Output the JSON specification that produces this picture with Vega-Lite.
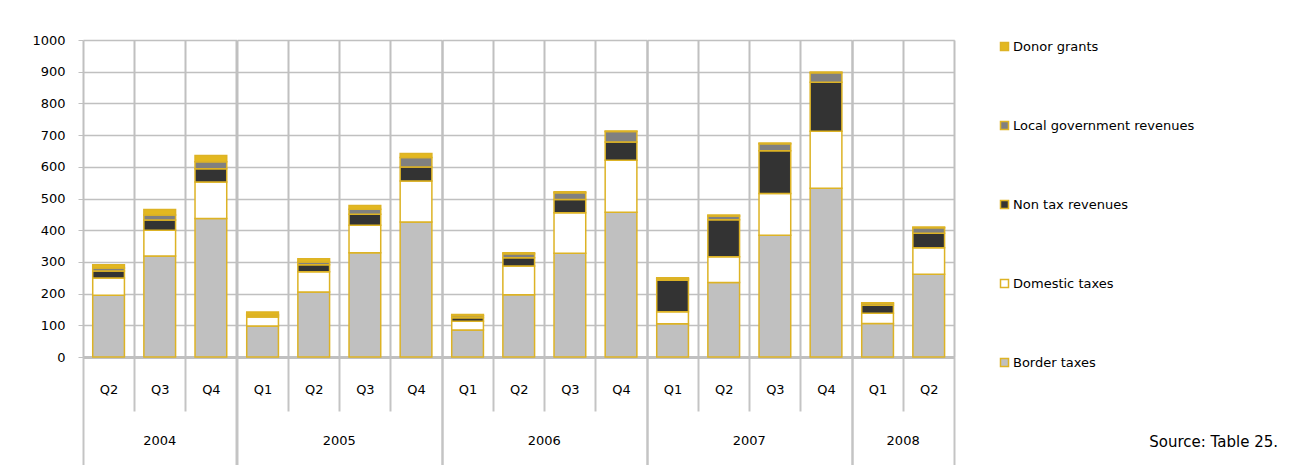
{
  "$schema": "https://vega.github.io/schema/vega-lite/v6.json",
  "padding": {"left": 31, "top": 34, "right": 0, "bottom": 0},
  "background": "white",
  "data": {"values": [
    {"year": "2004", "q": "Q2", "Border taxes": 195, "Domestic taxes": 54, "Non tax revenues": 22, "Local government revenues": 10, "Donor grants": 10},
    {"year": "2004", "q": "Q3", "Border taxes": 319, "Domestic taxes": 81, "Non tax revenues": 32, "Local government revenues": 16, "Donor grants": 17},
    {"year": "2004", "q": "Q4", "Border taxes": 437, "Domestic taxes": 115, "Non tax revenues": 42, "Local government revenues": 22, "Donor grants": 20},
    {"year": "2005", "q": "Q1", "Border taxes": 98, "Domestic taxes": 28, "Non tax revenues": 5, "Local government revenues": 3, "Donor grants": 8},
    {"year": "2005", "q": "Q2", "Border taxes": 205, "Domestic taxes": 64, "Non tax revenues": 22, "Local government revenues": 9, "Donor grants": 10},
    {"year": "2005", "q": "Q3", "Border taxes": 329, "Domestic taxes": 87, "Non tax revenues": 34, "Local government revenues": 16, "Donor grants": 12},
    {"year": "2005", "q": "Q4", "Border taxes": 426, "Domestic taxes": 129, "Non tax revenues": 44, "Local government revenues": 30, "Donor grants": 13},
    {"year": "2006", "q": "Q1", "Border taxes": 85, "Domestic taxes": 28, "Non tax revenues": 11, "Local government revenues": 6, "Donor grants": 4},
    {"year": "2006", "q": "Q2", "Border taxes": 196, "Domestic taxes": 91, "Non tax revenues": 26, "Local government revenues": 13, "Donor grants": 3},
    {"year": "2006", "q": "Q3", "Border taxes": 327, "Domestic taxes": 128, "Non tax revenues": 42, "Local government revenues": 21, "Donor grants": 3},
    {"year": "2006", "q": "Q4", "Border taxes": 457, "Domestic taxes": 164, "Non tax revenues": 57, "Local government revenues": 33, "Donor grants": 2},
    {"year": "2007", "q": "Q1", "Border taxes": 105, "Domestic taxes": 38, "Non tax revenues": 99, "Local government revenues": 5, "Donor grants": 3},
    {"year": "2007", "q": "Q2", "Border taxes": 235, "Domestic taxes": 81, "Non tax revenues": 117, "Local government revenues": 12, "Donor grants": 3},
    {"year": "2007", "q": "Q3", "Border taxes": 384, "Domestic taxes": 132, "Non tax revenues": 135, "Local government revenues": 22, "Donor grants": 2},
    {"year": "2007", "q": "Q4", "Border taxes": 532, "Domestic taxes": 180, "Non tax revenues": 155, "Local government revenues": 30, "Donor grants": 2},
    {"year": "2008", "q": "Q1", "Border taxes": 106, "Domestic taxes": 32, "Non tax revenues": 25, "Local government revenues": 6, "Donor grants": 2},
    {"year": "2008", "q": "Q2", "Border taxes": 261, "Domestic taxes": 84, "Non tax revenues": 45, "Local government revenues": 18, "Donor grants": 2}
  ]},
  "transform": [
    {"fold": ["Border taxes", "Domestic taxes", "Non tax revenues", "Local government revenues", "Donor grants"], "as": ["series", "value"]},
    {"calculate": "indexof(['Border taxes','Domestic taxes','Non tax revenues','Local government revenues','Donor grants'], datum.series)", "as": "stackOrder"}
  ],
  "title": {"text": "Source: Table 25.", "orient": "bottom", "anchor": "end", "frame": "bounds", "fontSize": 15, "fontWeight": "normal", "font": "DejaVu Sans", "color": "black", "offset": -33, "dx": 83},
  "facet": {
    "column": {"field": "year", "type": "ordinal", "header": {"title": null, "labelOrient": "bottom", "titleOrient": "bottom", "labelFontSize": 13, "labelFont": "DejaVu Sans", "labelColor": "black", "labelPadding": 78}}
  },
  "spacing": 0,
  "bounds": "flush",
  "resolve": {"scale": {"x": "independent"}},
  "spec": {
    "width": {"step": 51.15},
    "height": 317,
    "mark": {"type": "bar", "width": {"band": 0.62}, "stroke": "#DDB325", "strokeWidth": 1.5},
    "encoding": {
      "x": {"field": "q", "type": "nominal", "scale": {"paddingInner": 0, "paddingOuter": 0},
        "axis": {"title": null, "labelAngle": 0, "labelFontSize": 13, "labelColor": "black",
          "domainColor": "#c0c0c0", "domainWidth": 3, "tickBand": "extent", "tickColor": "#c4c4c4", "tickWidth": 2,
          "tickSize": {"condition": {"test": "datum.index == 1 || datum.index == -1", "value": 110}, "value": 54},
          "labelPadding": {"condition": {"test": "datum.index == 1 || datum.index == -1", "value": -84}, "value": -28},
          "grid": true, "gridColor": "#c0c0c0", "gridWidth": 2}},
      "y": {"field": "value", "type": "quantitative", "stack": "zero", "scale": {"domain": [0, 1000]},
        "axis": {"title": null, "values": [0, 100, 200, 300, 400, 500, 600, 700, 800, 900, 1000], "format": "d", "labelFontSize": 13, "labelColor": "black",
          "domain": false, "tickColor": "#c0c0c0", "tickSize": 5, "labelPadding": 13, "grid": true, "gridColor": "#c0c0c0", "gridWidth": 1.5}},
      "color": {"field": "series", "type": "nominal",
        "scale": {"domain": ["Donor grants", "Local government revenues", "Non tax revenues", "Domestic taxes", "Border taxes"],
                  "range": ["#E3B820", "#808080", "#333333", "#ffffff", "#c0c0c0"]},
        "legend": {"title": null, "orient": "right", "offset": 43, "padding": 0, "symbolType": "square", "symbolSize": 64,
          "symbolStrokeColor": "#DDB325", "symbolStrokeWidth": 1.5, "labelFontSize": 13, "labelColor": "black", "labelOffset": 2, "labelLimit": 400, "rowPadding": 64}},
      "order": {"field": "stackOrder", "type": "quantitative", "sort": "ascending"}
    }
  },
  "config": {"font": "DejaVu Sans", "view": {"stroke": null}}
}
